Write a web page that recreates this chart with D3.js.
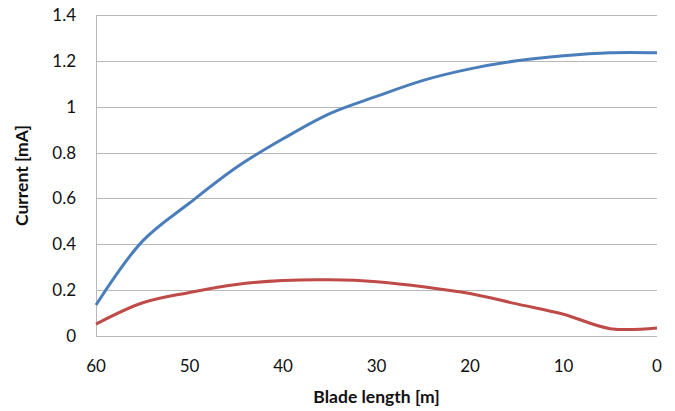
<!DOCTYPE html>
<html><head><meta charset="utf-8">
<script src="https://cdn.jsdelivr.net/npm/d3@7"></script>
<style>body{margin:0;background:#fff}svg{display:block}text{font-family:Lato,"Open Sans",sans-serif}</style>
</head><body>
<svg id="c" width="675" height="411"></svg>
<script>
const lengths = [60,55,50,45,40,35,30,25,20,15,10,5,0];
const seriesBlue = [0.135,0.415,0.58,0.735,0.86,0.97,1.045,1.115,1.165,1.2,1.222,1.235,1.235];
const seriesRed = [0.052,0.145,0.19,0.225,0.242,0.245,0.237,0.215,0.185,0.14,0.095,0.032,0.035];
const xTicks = [60,50,40,30,20,10,0];
const yTicks = [0,0.2,0.4,0.6,0.8,1,1.2,1.4];

const svg = d3.select("#c");
const L=96,R=657,T=15,B=336;
const x = d3.scaleLinear().domain([60,0]).range([L,R]);
const y = d3.scaleLinear().domain([0,1.4]).range([B,T]);

svg.append("g").selectAll("line").data(yTicks.slice(1)).join("line")
  .attr("x1",L).attr("x2",R).attr("y1",d=>Math.round(y(d))+0.5).attr("y2",d=>Math.round(y(d))+0.5)
  .attr("stroke","#b8b8b8").attr("stroke-width",1);
svg.append("line").attr("x1",L+0.5).attr("x2",L+0.5).attr("y1",T).attr("y2",B).attr("stroke","#b8b8b8");
svg.append("line").attr("x1",L).attr("x2",R).attr("y1",B+0.5).attr("y2",B+0.5).attr("stroke","#b8b8b8");

svg.append("g").selectAll("text").data(yTicks).join("text")
  .attr("x",76).attr("y",d=>y(d)+6).attr("text-anchor","end").attr("font-size",17).attr("fill","#111")
  .text(d=>d3.format("~g")(d));
svg.append("g").selectAll("text").data(xTicks).join("text")
  .attr("x",d=>x(d)).attr("y",372).attr("text-anchor","middle").attr("font-size",17).attr("fill","#111")
  .text(d=>d);

svg.append("text").attr("transform","translate(28,"+((T+B)/2)+") rotate(-90)")
  .attr("text-anchor","middle").attr("font-size",17.5).attr("font-weight","bold").attr("fill","#111").text("Current [mA]");
svg.append("text").attr("x",(L+R)/2).attr("y",403).attr("text-anchor","middle")
  .attr("font-size",17.5).attr("font-weight","bold").attr("fill","#111").text("Blade length [m]");

const line = d3.line().x((d,i)=>x(lengths[i])).y(d=>y(d)).curve(d3.curveCatmullRom.alpha(0.5));
svg.append("path").datum(seriesRed).attr("d",line).attr("fill","none").attr("stroke","#be4b48").attr("stroke-width",3);
svg.append("path").datum(seriesBlue).attr("d",line).attr("fill","none").attr("stroke","#4a7ebb").attr("stroke-width",3);
</script>
</body></html>
